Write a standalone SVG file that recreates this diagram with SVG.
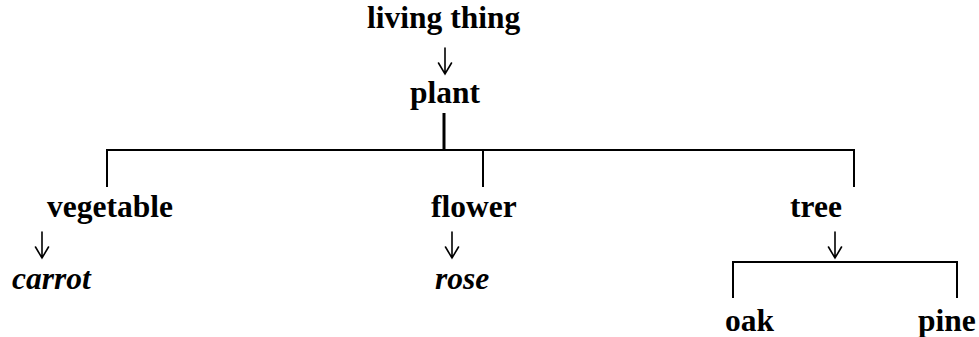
<svg xmlns="http://www.w3.org/2000/svg" width="979" height="337" viewBox="0 0 979 337">
<style>
.t{font-family:"Liberation Serif","Times New Roman",serif;font-size:31.5px;font-weight:bold;fill:#000}
.i{font-family:"Liberation Serif","Times New Roman",serif;font-size:31.5px;font-weight:bold;font-style:italic;fill:#000}
.c{stroke:#000;stroke-width:2;fill:none}
.ar{stroke:#000;stroke-width:1.6;fill:none;stroke-linecap:round;stroke-linejoin:miter}
</style>
<defs>
<path id="arr" class="ar" d="M0,0 V26 M-6.5,15 L0,26 L6.5,15"/>
</defs>
<rect width="979" height="337" fill="#fff"/>
<g id="connectors">
<line class="c" x1="444" y1="113" x2="444" y2="151" style="stroke-width:3"/>
<polyline class="c" points="107,187 107,150 854,150 854,187"/>
<line class="c" x1="483" y1="150" x2="483" y2="187"/>
<polyline class="c" points="733,298 733,262 957,262 957,298"/>
<use href="#arr" x="445" y="48"/>
<use href="#arr" x="42" y="232"/>
<use href="#arr" x="452" y="232"/>
<use href="#arr" x="835" y="232"/>
</g>
<g id="living-thing"><text class="t" x="367" y="28">living thing</text></g>
<g id="plant"><text class="t" x="410" y="103">plant</text></g>
<g id="vegetable"><text class="t" x="47" y="217">vegetable</text></g>
<g id="flower"><text class="t" x="431" y="217">flower</text></g>
<g id="tree"><text class="t" x="790" y="217">tree</text></g>
<g id="carrot"><text class="i" x="12" y="289">carrot</text></g>
<g id="rose"><text class="i" x="435" y="289">rose</text></g>
<g id="oak"><text class="t" x="725" y="331">oak</text></g>
<g id="pine"><text class="t" x="918" y="331">pine</text></g>
</svg>
